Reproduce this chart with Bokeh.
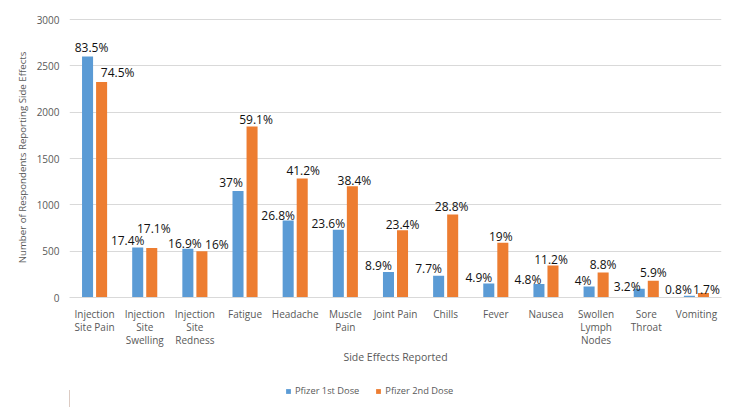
from bokeh.plotting import figure
from bokeh.layouts import column
from bokeh.models import Range1d, Legend, LegendItem, ColumnDataSource, FixedTicker
from bokeh.transform import dodge
from bokeh.core.properties import value
from bokeh.embed import file_html
from bokeh.resources import INLINE

# ---- data ----
categories = ["Injection\nSite Pain", "Injection\nSite\nSwelling", "Injection\nSite\nRedness",
              "Fatigue", "Headache", "Muscle\nPain", "Joint Pain", "Chills", "Fever",
              "Nausea", "Swollen\nLymph\nNodes", "Sore\nThroat", "Vomiting"]
dose1_counts = [2600, 540, 525, 1150, 830, 730, 275, 235, 150, 145, 120, 95, 20]
dose2_counts = [2325, 535, 500, 1845, 1285, 1200, 725, 895, 590, 345, 270, 180, 48]
dose1_pct = ["83.5%", "17.4%", "16.9%", "37%", "26.8%", "23.6%", "8.9%", "7.7%",
             "4.9%", "4.8%", "4%", "3.2%", "0.8%"]
dose2_pct = ["74.5%", "17.1%", "16%", "59.1%", "41.2%", "38.4%", "23.4%", "28.8%",
             "19%", "11.2%", "8.8%", "5.9%", "1.7%"]
series_names = ["Pfizer 1st Dose", "Pfizer 2nd Dose"]
y_ticks = [0, 500, 1000, 1500, 2000, 2500, 3000]

# ---- label nudges (style: px shifts of the data labels) ----
d1_dx = [4, -10, -3, -7, -10, -10, -10, -10, -10, -11, -6, -12, -11]
d1_rise = [9, 6, 5, 8, 5, 6, 6, 7, 6, 4, 5, 2, 6]
d2_dx = [16, 2, 15, 4, 1, 2, 0, -1, -2, -2, 0, 0, 3]
d2_rise = [9, 19, 6, 7, 7, 5, 5, 8, 6, 6, 7, 8, 3]

BASE = 8
src = ColumnDataSource(dict(
    cat=categories, d1=dose1_counts, d2=dose2_counts, p1=dose1_pct, p2=dose2_pct,
    dx1=d1_dx, dy1=[BASE - r for r in d1_rise],
    dx2=d2_dx, dy2=[BASE - r for r in d2_rise],
))

BLUE = "#5B9BD5"
ORANGE = "#ED7D31"
GREY = "#595959"
FONT = "Open Sans"

p = figure(x_range=categories, y_range=Range1d(0, 3022), frame_width=652, frame_height=280,
           output_backend="svg", toolbar_location=None,
           min_border_left=69, min_border_right=20, min_border_top=17, min_border_bottom=75)

r1 = p.vbar(x=dodge("cat", -0.14, range=p.x_range), top="d1", width=0.22, source=src,
            fill_color=BLUE, line_color=None)
r2 = p.vbar(x=dodge("cat", 0.14, range=p.x_range), top="d2", width=0.22, source=src,
            fill_color=ORANGE, line_color=None)

p.text(x=dodge("cat", -0.14, range=p.x_range), y="d1", text="p1", source=src,
       x_offset="dx1", y_offset="dy1", text_align="center", text_baseline="bottom",
       text_font=value(FONT), text_font_size="12px", text_color="#111111")
p.text(x=dodge("cat", 0.14, range=p.x_range), y="d2", text="p2", source=src,
       x_offset="dx2", y_offset="dy2", text_align="center", text_baseline="bottom",
       text_font=value(FONT), text_font_size="12px", text_color="#111111")

p.outline_line_color = None
p.xgrid.grid_line_color = None
p.ygrid.grid_line_color = "#D9D9D9"
p.yaxis.ticker = FixedTicker(ticks=y_ticks)

p.yaxis.axis_line_color = None
p.yaxis.major_tick_line_color = None
p.yaxis.minor_tick_line_color = None
p.yaxis.major_tick_out = 0
p.yaxis.major_label_standoff = 10
p.yaxis.major_label_text_font = FONT
p.yaxis.major_label_text_font_size = "10px"
p.yaxis.major_label_text_color = GREY
p.yaxis.axis_label = "Number of Respondents Reporting Side Effects"
p.yaxis.axis_label_text_font = FONT
p.yaxis.axis_label_text_font_size = "9.7px"
p.yaxis.axis_label_text_font_style = "normal"
p.yaxis.axis_label_text_color = GREY
p.yaxis.axis_label_standoff = 5

p.xaxis.axis_line_color = "#D9D9D9"
p.xaxis.major_tick_line_color = None
p.xaxis.minor_tick_line_color = None
p.xaxis.major_tick_out = 0
p.xaxis.major_label_standoff = 9
p.xaxis.major_label_text_font = FONT
p.xaxis.major_label_text_font_size = "10px"
p.xaxis.major_label_text_line_height = 0.95
p.xaxis.major_label_text_color = GREY
p.xaxis.axis_label = "Side Effects Reported"
p.xaxis.axis_label_text_font = FONT
p.xaxis.axis_label_text_font_size = "10.5px"
p.xaxis.axis_label_text_font_style = "normal"
p.xaxis.axis_label_text_color = GREY
p.xaxis.axis_label_standoff = 0

# ---- legend strip below the chart ----
lf = figure(width=741, height=35, x_range=Range1d(0, 1), y_range=Range1d(0, 1),
            output_backend="svg", toolbar_location=None,
            min_border_left=0, min_border_right=0, min_border_top=0, min_border_bottom=0)
lf.axis.visible = False
lf.grid.visible = False
lf.outline_line_color = None
l1 = lf.vbar(x=[-5], top=[0.5], width=0.1, fill_color=BLUE, line_color=None)
l2 = lf.vbar(x=[-5], top=[0.5], width=0.1, fill_color=ORANGE, line_color=None)
legend = Legend(items=[LegendItem(label=series_names[0], renderers=[l1]),
                       LegendItem(label=series_names[1], renderers=[l2])],
                orientation="horizontal", location=(216, 10),
                glyph_width=6, glyph_height=6, label_standoff=4, spacing=16,
                padding=0, margin=0, border_line_color=None, background_fill_alpha=0,
                label_text_font=FONT, label_text_font_size="9.3px", label_text_color=GREY)
lf.add_layout(legend)

layout = column(p, lf)
open("out.html", "w").write(file_html(layout, INLINE))
